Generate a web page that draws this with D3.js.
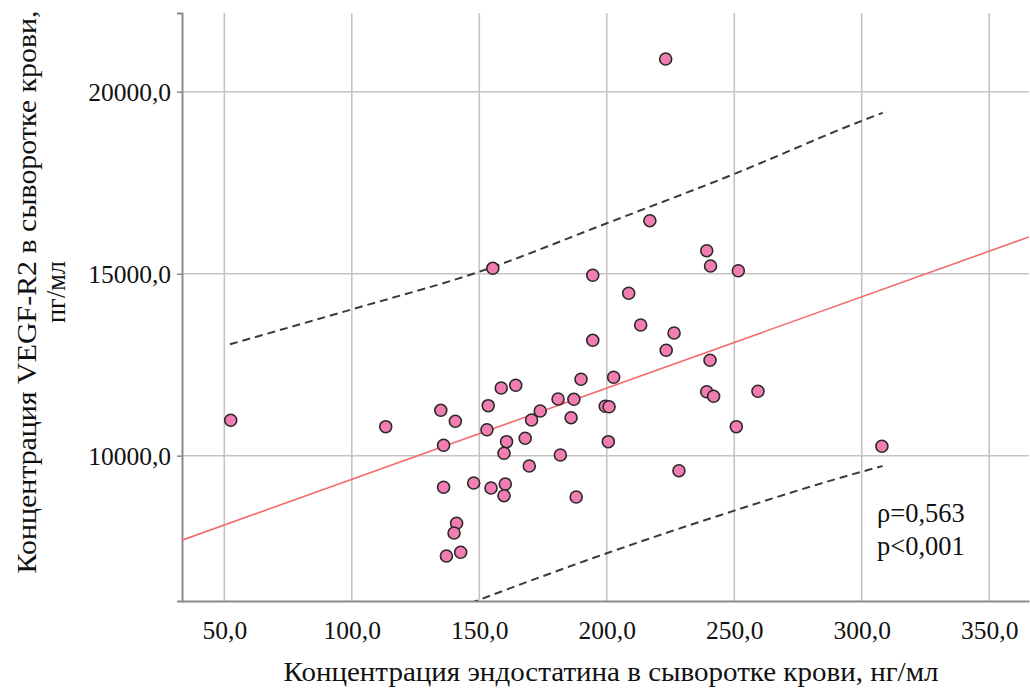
<!DOCTYPE html>
<html>
<head>
<meta charset="utf-8">
<script src="https://cdnjs.cloudflare.com/ajax/libs/d3/7.8.5/d3.min.js"></script>
<style>
  html, body { margin: 0; padding: 0; background: #fff; }
  svg { display: block; font-family: "Liberation Serif", "Times New Roman", serif; }
</style>
</head>
<body>
<svg id="chart" width="1030" height="691"></svg>
<script>
// endostatin (ng/ml) and VEGF-R2 (pg/ml) per patient
const endostatin = [
  52.5, 113.3, 134.9, 140.6, 136.0, 153.5, 158.6, 164.3, 153.0, 160.7,
  159.7, 168.0, 170.5, 169.6, 136.0, 147.8, 154.6, 160.2, 159.7, 141.1,
  140.1, 137.1, 142.7, 194.5, 189.9, 202.7, 180.9, 187.1, 173.9, 186.0,
  199.4, 200.9, 200.6, 181.8, 188.0, 223.1, 216.9, 239.2, 240.7, 251.6,
  208.6, 194.5, 155.3, 213.3, 226.4, 223.3, 240.5, 239.2, 241.9, 259.3,
  250.8, 307.9, 228.3
];
const vegfr2 = [
  10973, 10797, 11247, 10945, 10286, 11374, 11860, 11934, 10714, 10385,
  10066, 10478, 10981, 9717, 9132, 9250, 9113, 9223, 8901, 8143,
  7876, 7245, 7346, 13170, 12099, 12154, 11558, 11549, 11228, 11044,
  11357, 11346, 10385, 10019, 8865, 20898, 16456, 15632, 15212, 15082,
  14462, 14956, 15148, 13591, 13371, 12896, 12621, 11758, 11632, 11769,
  10797, 10258, 9588
];

// regression line (ends at the plot edges) and 95% prediction band
const fitX = [33.4, 365.6];
const fitY = [7680, 16010];
const bandX = [52.2, 100, 150, 200, 250, 300, 308.2];
const bandUpper = [13060, 14020, 15055, 16385, 17740, 19200, 19420];
const bandLower = [3230, 4670, 6040, 7320, 8490, 9560, 9715];

const xTicks = [50, 100, 150, 200, 250, 300, 350];
const yTicks = [10000, 15000, 20000];
const xTitle = 'Концентрация эндостатина в сыворотке крови, нг/мл';
const yTitle = ['Концентрация VEGF-R2 в сыворотке крови,', 'пг/мл'];
const stats = ['ρ=0,563', 'p<0,001'];

const plot = {left: 182, right: 1029, top: 13, bottom: 601};

const svg = d3.select('#chart');
const fmt = d3.formatLocale({decimal: ',', thousands: '', grouping: [3]}).format('.1f');

const x = d3.scaleLinear().domain([33.4, 365.6]).range([plot.left, plot.right]);
const y = d3.scaleLinear().domain([6008, 22162]).range([plot.bottom, plot.top]);

svg.append('defs').append('clipPath').attr('id', 'plotClip')
  .append('rect')
  .attr('x', plot.left).attr('y', plot.top)
  .attr('width', plot.right - plot.left).attr('height', plot.bottom - plot.top);

// grid
svg.append('g')
  .selectAll('line')
  .data(xTicks)
  .join('line')
  .attr('x1', d => x(d)).attr('x2', d => x(d))
  .attr('y1', plot.top).attr('y2', plot.bottom)
  .style('stroke', '#c4c4c4')
  .style('stroke-width', 1.6);

svg.append('g')
  .selectAll('line')
  .data(yTicks)
  .join('line')
  .attr('x1', plot.left).attr('x2', plot.right)
  .attr('y1', d => y(d)).attr('y2', d => y(d))
  .style('stroke', '#c4c4c4')
  .style('stroke-width', 1.6);

// axes
const xAxis = d3.axisBottom(x).tickValues(xTicks).tickFormat(fmt).tickSize(0).tickPadding(20);
const yAxis = d3.axisLeft(y).tickValues(yTicks).tickFormat(fmt).tickSize(5).tickPadding(6);

const gx = svg.append('g')
  .attr('transform', `translate(0,${plot.bottom})`)
  .call(xAxis);
const gy = svg.append('g')
  .attr('transform', `translate(${plot.left},0)`)
  .call(yAxis);

[gx, gy].forEach(g => {
  g.select('.domain').style('stroke', '#8a8a8a').style('stroke-width', 2);
  g.selectAll('.tick line').style('stroke', '#8a8a8a').style('stroke-width', 1.5);
  g.selectAll('.tick text')
    .style('font-family', '"Liberation Serif", serif')
    .style('font-size', '25.5px')
    .style('fill', '#111');
});
gy.selectAll('.tick text').attr('dy', '0.35em');

const lines = svg.append('g').attr('clip-path', 'url(#plotClip)');

// prediction band
const band = d3.line()
  .x(d => x(d[0]))
  .y(d => y(d[1]))
  .curve(d3.curveMonotoneX);

[bandUpper, bandLower].forEach(vals => {
  lines.append('path')
    .datum(bandX.map((v, i) => [v, vals[i]]))
    .attr('d', band)
    .style('fill', 'none')
    .style('stroke', '#3a3a3a')
    .style('stroke-width', 2)
    .style('stroke-dasharray', '8,5');
});

// fit line
lines.append('path')
  .datum(fitX.map((v, i) => [v, fitY[i]]))
  .attr('d', d3.line().x(d => x(d[0])).y(d => y(d[1])))
  .style('fill', 'none')
  .style('stroke', '#f46b6b')
  .style('stroke-width', 1.6);

// points
svg.append('g')
  .selectAll('circle')
  .data(endostatin.map((v, i) => [v, vegfr2[i]]))
  .join('circle')
  .attr('cx', d => x(d[0]))
  .attr('cy', d => y(d[1]))
  .attr('r', 6)
  .style('fill', '#f27db2')
  .style('stroke', '#2a2a2a')
  .style('stroke-width', 1.6);

// stats
svg.append('g')
  .selectAll('text')
  .data(stats)
  .join('text')
  .attr('x', 877)
  .attr('y', (d, i) => 522 + i * 33)
  .style('font-size', '26.5px')
  .style('fill', '#111')
  .text(d => d);

// axis titles
svg.append('text')
  .attr('x', 611)
  .attr('y', 681)
  .attr('text-anchor', 'middle')
  .attr('textLength', 655)
  .attr('lengthAdjust', 'spacingAndGlyphs')
  .style('font-size', '27px')
  .style('fill', '#111')
  .text(xTitle);

const yTitleLen = [563, 62];
svg.append('g')
  .selectAll('text')
  .data(yTitle)
  .join('text')
  .attr('transform', (d, i) => `translate(${36 + i * 29},292) rotate(-90)`)
  .attr('text-anchor', 'middle')
  .attr('textLength', (d, i) => yTitleLen[i])
  .attr('lengthAdjust', 'spacingAndGlyphs')
  .style('font-size', '27px')
  .style('fill', '#111')
  .text(d => d);
</script>
</body>
</html>
